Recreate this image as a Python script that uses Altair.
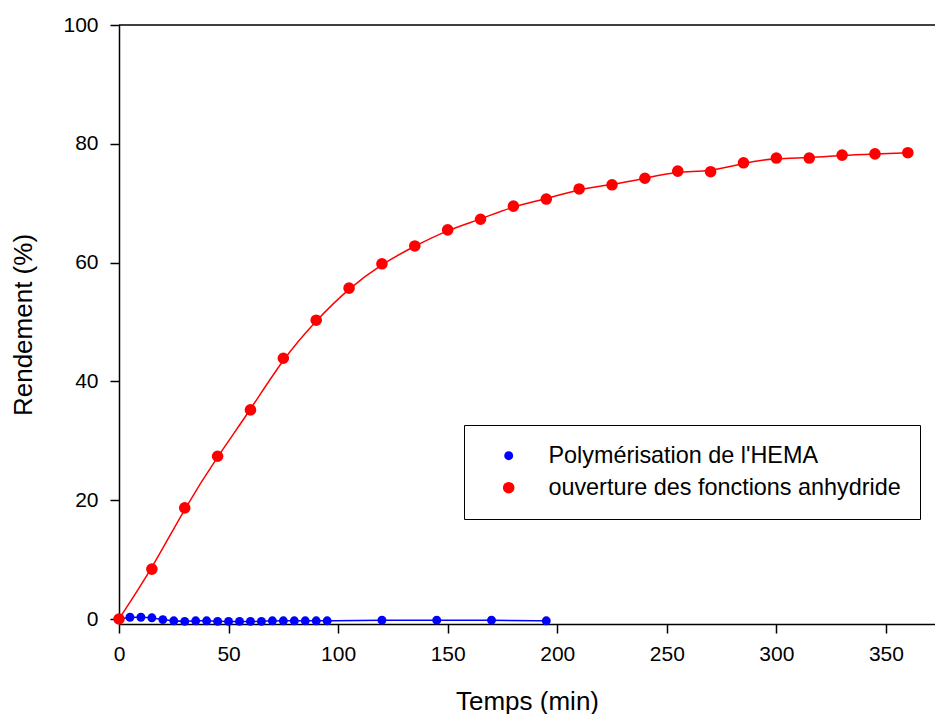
import altair as alt
import pandas as pd

# ---- data ----
series_names = ["Polymérisation de l'HEMA", "ouverture des fonctions anhydride"]
series_colors = ["#0000ff", "#ff0000"]
series_sizes = [80, 135]

t_blue = [0, 5, 10, 15, 20, 25, 30, 35, 40, 45, 50, 55, 60, 65, 70, 75, 80, 85, 90, 95,
          120, 145, 170, 195]
y_blue = [0.0, 0.3, 0.3, 0.2, -0.1, -0.3, -0.4, -0.3, -0.3, -0.4, -0.4, -0.4, -0.4, -0.4,
          -0.3, -0.3, -0.3, -0.3, -0.3, -0.3, -0.2, -0.2, -0.2, -0.3]

t_red = [0, 15, 30, 45, 60, 75, 90, 105, 120, 135, 150, 165, 180, 195, 210, 225, 240,
         255, 270, 285, 300, 315, 330, 345, 360]
y_red = [0.0, 8.4, 18.7, 27.4, 35.2, 43.9, 50.3, 55.7, 59.8, 62.8, 65.5, 67.3, 69.5, 70.7,
         72.4, 73.1, 74.2, 75.4, 75.3, 76.8, 77.6, 77.6, 78.1, 78.3, 78.5]

x_ticks = [0, 50, 100, 150, 200, 250, 300, 350]
y_ticks = [0, 20, 40, 60, 80, 100]

df = pd.concat([
    pd.DataFrame({"t": t_blue, "y": y_blue, "serie": series_names[0]}),
    pd.DataFrame({"t": t_red, "y": y_red, "serie": series_names[1]}),
], ignore_index=True)

FONT = "Liberation Sans"
W, H = 816, 599

x_enc = alt.X("t:Q", scale=alt.Scale(domain=[0, 372.4], nice=False, zero=False),
              axis=alt.Axis(orient="bottom", values=x_ticks, title="Temps (min)",
                            labelPadding=10, titlePadding=24, labelFlush=False))
y_enc = alt.Y("y:Q", scale=alt.Scale(domain=[-0.84, 100], nice=False, zero=False),
              axis=alt.Axis(orient="left", values=y_ticks, title="Rendement (%)",
                            labelPadding=12, titlePadding=26, labelFlush=False))

legend = alt.Legend(
    title=None, orient="none", legendX=345, legendY=400,
    strokeColor="black", fillColor="white", padding=19, rowPadding=7,
    labelFont=FONT, labelFontSize=23.4, labelColor="black", labelLimit=0,
    labelOffset=28, symbolOffset=14, symbolStrokeWidth=0, symbolType="circle",
)

base = alt.Chart(df)

line_blue = base.transform_filter(alt.datum.serie == series_names[0]).mark_line(
    color=series_colors[0], strokeWidth=1.5, interpolate="basis").encode(x=x_enc, y=y_enc)
line_red = base.transform_filter(alt.datum.serie == series_names[1]).mark_line(
    color=series_colors[1], strokeWidth=1.5, interpolate="basis").encode(x=x_enc, y=y_enc)

points = base.mark_circle(opacity=1).encode(
    x=x_enc,
    y=y_enc,
    color=alt.Color("serie:N", scale=alt.Scale(domain=series_names, range=series_colors),
                    legend=legend),
    size=alt.Size("serie:N", scale=alt.Scale(domain=series_names, range=series_sizes),
                  legend=legend),
    order=alt.Order("serie:N"),
)

# top frame line of the plot area
top_frame = alt.Chart(pd.DataFrame({"k": [0]})).mark_rule(
    color="black", strokeWidth=1.5).encode(
    y=alt.value(0), x=alt.value(0), x2=alt.value(W))

chart = alt.layer(line_blue, line_red, points, top_frame).properties(
    width=W, height=H,
    autosize=alt.AutoSizeParams(type="none"),
    padding={"left": 111, "top": 17, "right": 0, "bottom": 90},
).configure_view(stroke=None).configure_axis(
    grid=False, labelFont=FONT, titleFont=FONT, labelFontSize=21, titleFontSize=26,
    titleFontWeight="normal", labelColor="black", titleColor="black",
    domainColor="black", tickColor="black", domainWidth=1.5, tickWidth=1.5,
    tickSize=9,
)

chart.save("out.html", embed_options={"renderer": "svg", "actions": False})
